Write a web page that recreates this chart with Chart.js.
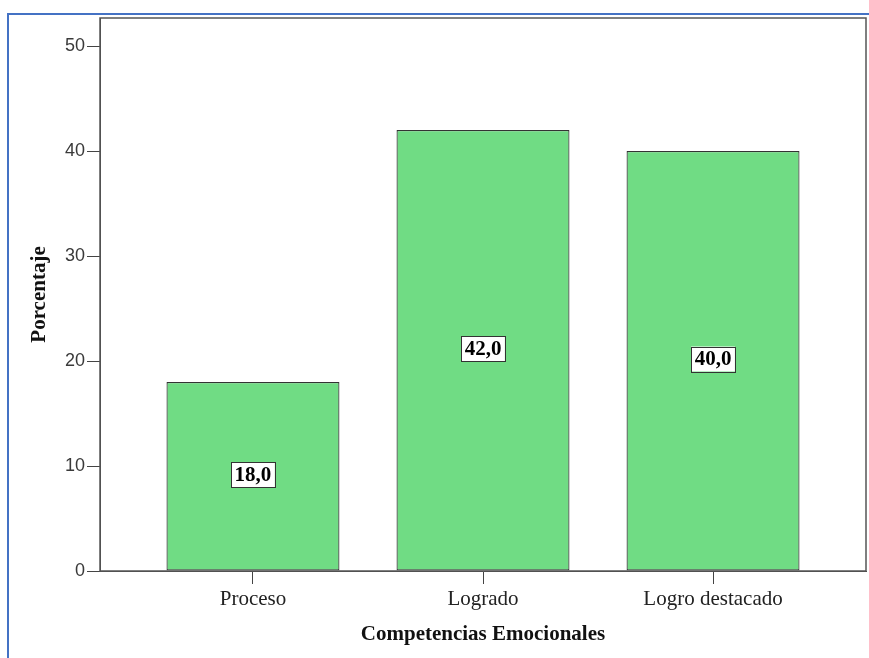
<!DOCTYPE html>
<html>
<head>
<meta charset="utf-8">
<script src="https://cdn.jsdelivr.net/npm/chart.js@4/dist/chart.umd.min.js"></script>
<style>
  body { margin: 0; background: #fff; }
  #wrap { position: relative; width: 869px; height: 658px; overflow: hidden; }
  #frame {
    position: absolute; left: 7px; top: 13px; width: 900px; height: 700px;
    border-left: 2px solid #4472c4; border-top: 2px solid #4472c4;
  }
  canvas { position: absolute; left: 0; top: 0; }
</style>
</head>
<body>
<div id="wrap">
  <div id="frame"></div>
  <canvas id="chart" width="869" height="658"></canvas>
</div>
<script>
const categories = ['Proceso', 'Logrado', 'Logro destacado'];
const percentages = [18.0, 42.0, 40.0];
const yTicks = [0, 10, 20, 30, 40, 50];
const xTitle = 'Competencias Emocionales';
const yTitle = 'Porcentaje';

// white boxed value in the middle of each bar
const valueBoxes = {
    id: 'valueBoxes',
    afterDatasetsDraw(chart) {
        const ctx = chart.ctx;
        const yScale = chart.scales.y;
        const meta = chart.getDatasetMeta(0);
        ctx.save();
        ctx.font = 'bold 21px "Liberation Serif", serif';
        ctx.textAlign = 'center';
        ctx.textBaseline = 'middle';
        meta.data.forEach((bar, i) => {
            const text = percentages[i].toFixed(1).replace('.', ',');
            const w = ctx.measureText(text).width + 7;
            const h = 25;
            const cx = bar.x;
            const cy = yScale.getPixelForValue(percentages[i] / 2) - 2;
            ctx.fillStyle = '#fff';
            ctx.fillRect(cx - w / 2, cy - h / 2, w, h);
            ctx.strokeStyle = '#333';
            ctx.lineWidth = 1;
            ctx.strokeRect(Math.round(cx - w / 2) + 0.5, Math.round(cy - h / 2) + 0.5, Math.round(w), h);
            ctx.fillStyle = '#000';
            ctx.fillText(text, cx, cy + 1);
        });
        ctx.restore();
    }
};

// box around the plot area
const plotFrame = {
    id: 'plotFrame',
    afterDraw(chart) {
        const a = chart.chartArea;
        const ctx = chart.ctx;
        ctx.save();
        ctx.strokeStyle = '#555';
        ctx.lineWidth = 1.5;
        ctx.strokeRect(a.left, a.top, a.right - a.left, a.bottom - a.top);
        ctx.restore();
    }
};

new Chart(document.getElementById('chart'), {
    type: 'bar',
    data: {
        datasets: [{
            data: categories.map((c, i) => ({ x: i, y: percentages[i] })),
            backgroundColor: '#70dc84',
            borderColor: '#333',
            borderWidth: 1.2,
            borderSkipped: false,
            categoryPercentage: 1,
            barPercentage: 0.752
        }]
    },
    options: {
        responsive: false,
        animation: false,
        devicePixelRatio: 1,
        layout: { padding: { left: 0, top: 18, right: 3, bottom: 0 } },
        plugins: {
            legend: { display: false },
            tooltip: { enabled: false }
        },
        scales: {
            x: {
                type: 'linear',
                min: -0.665,
                max: 2.665,
                offset: false,
                afterBuildTicks: (scale) => {
                    scale.ticks = categories.map((c, i) => ({ value: i }));
                },
                afterFit: (scale) => { scale.height = 87; },
                ticks: {
                    callback: (v) => categories[v],
                    color: '#222',
                    padding: 3,
                    maxRotation: 0,
                    font: { family: '"Liberation Serif", serif', size: 21 }
                },
                grid: {
                    offset: false,
                    drawOnChartArea: false,
                    drawTicks: true,
                    tickLength: 13,
                    tickColor: '#444'
                },
                border: { display: true, color: '#444', width: 1 },
                title: {
                    display: true,
                    text: xTitle,
                    color: '#111',
                    padding: { top: 0, bottom: 11 },
                    font: { family: '"Liberation Serif", serif', size: 21, weight: 'bold' }
                }
            },
            y: {
                min: 0,
                max: 52.67,
                afterBuildTicks: (scale) => {
                    scale.ticks = yTicks.map(v => ({ value: v }));
                },
                afterFit: (scale) => { scale.width = 100; },
                ticks: {
                    color: '#3a3a3a',
                    padding: 2,
                    font: { family: '"Liberation Sans", sans-serif', size: 18 }
                },
                grid: {
                    drawOnChartArea: false,
                    drawTicks: true,
                    tickLength: 13,
                    tickColor: '#444'
                },
                border: { display: true, color: '#444', width: 1 },
                title: {
                    display: true,
                    text: yTitle,
                    color: '#111',
                    padding: { top: 27, bottom: 0 },
                    font: { family: '"Liberation Serif", serif', size: 21, weight: 'bold' }
                }
            }
        }
    },
    plugins: [valueBoxes, plotFrame]
});
</script>
</body>
</html>
